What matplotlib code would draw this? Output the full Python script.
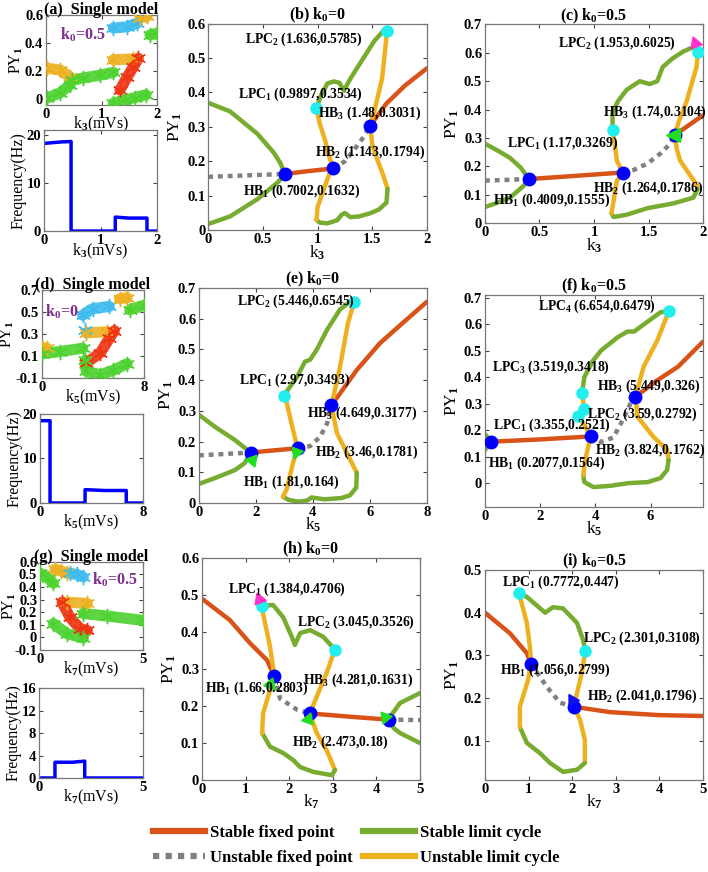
import matplotlib
matplotlib.use("Agg")
import matplotlib.pyplot as plt
from matplotlib.lines import Line2D

plt.rcParams["font.family"] = ["Liberation Serif", "DejaVu Serif"]
plt.rcParams["font.weight"] = "bold"
plt.rcParams["mathtext.fontset"] = "custom"
plt.rcParams["mathtext.rm"] = "Liberation Serif:bold"
plt.rcParams["mathtext.it"] = "Liberation Serif:bold"
plt.rcParams["mathtext.bf"] = "Liberation Serif:bold"
plt.rcParams["axes.unicode_minus"] = False

SFP = "#D95319"   # stable fixed point
SLC = "#77AC30"   # stable limit cycle
ULC = "#EDB120"   # unstable limit cycle
UFP = "#808080"   # unstable fixed point

# ---------------- (a) single model, k3 ----------------
a_yellow_1 = [(0.02, 0.22), (0.25, 0.207), (0.43, 0.157)]
a_green_1 = [(0.02, 0.007), (0.25, 0.043), (0.43, 0.1), (0.47, 0.136), (0.67, 0.15), (0.97, 0.17), (1.21, 0.19)]
a_cyan = [(1.21, 0.507), (1.46, 0.516), (1.64, 0.54)]
a_yellow_2 = [(1.69, 0.58), (1.82, 0.59)]
a_green_2 = [(1.87, 0.457), (2.0, 0.47)]
a_yellow_3 = [(1.21, 0.28), (1.57, 0.286)]
a_red = [(1.33, 0.064), (1.46, 0.157), (1.57, 0.229), (1.66, 0.29)]
a_green_3 = [(1.21, -0.03), (1.4, -0.01), (1.6, 0.01), (1.8, 0.03)]
a_freq_k = [0, 0.1, 0.2, 0.3, 0.48, 0.48, 1.26, 1.26, 1.5, 1.82, 1.82, 2.0]
a_freq_hz = [18.2, 18.3, 18.4, 18.5, 18.6, 0, 0, 2.9, 2.7, 2.7, 0, 0]

# ---------------- (b) k0=0, k3 ----------------
b_slc_left = [(0, 0.37), (0.2, 0.345), (0.45, 0.28), (0.6, 0.225), (0.66, 0.195), (0.7002, 0.1632),
              (0.64, 0.14), (0.45, 0.09), (0.2, 0.04), (0, 0.018)]
b_ufp_1 = [(0, 0.155), (0.7002, 0.1632)]
b_sfp_1 = [(0.7002, 0.1632), (0.9, 0.171), (1.143, 0.1794)]
b_ufp_2 = [(1.143, 0.1794), (1.25, 0.20), (1.35, 0.24), (1.42, 0.27), (1.48, 0.3031)]
b_sfp_2 = [(1.48, 0.3031), (1.63, 0.368), (1.8, 0.42), (2.0, 0.47)]
b_slc_top = [(0.9897, 0.3534), (1.03, 0.39), (1.09, 0.426), (1.15, 0.432), (1.2, 0.428), (1.24, 0.405),
             (1.3, 0.44), (1.42, 0.50), (1.52, 0.55), (1.62, 0.585), (1.636, 0.5785)]
b_ulc_right = [(1.636, 0.5785), (1.61, 0.50), (1.59, 0.44), (1.53, 0.36), (1.48, 0.3031), (1.50, 0.25),
               (1.54, 0.21), (1.60, 0.16), (1.64, 0.12)]
b_slc_bottom = [(1.64, 0.12), (1.63, 0.08), (1.56, 0.06), (1.48, 0.049), (1.38, 0.04), (1.30, 0.038),
                (1.25, 0.05), (1.22, 0.045), (1.18, 0.029), (1.09, 0.02), (1.02, 0.022), (0.99, 0.03)]
b_ulc_left = [(0.99, 0.03), (1.0, 0.067), (1.07, 0.13), (1.11, 0.165), (1.143, 0.1794), (1.10, 0.22),
              (1.07, 0.26), (1.02, 0.31), (0.9897, 0.3534)]
b_hb = [(0.7002, 0.1632), (1.143, 0.1794), (1.48, 0.3031)]
b_lpc = [(0.9897, 0.3534), (1.636, 0.5785)]
b_notes = [("LPC$_2$ (1.636,0.5785)", 0.34, 0.554), ("LPC$_1$ (0.9897,0.3534)", 0.27, 0.394),
           ("HB$_3$ (1.48,0.3031)", 1.0, 0.339), ("HB$_2$ (1.143,0.1794)", 0.98, 0.226),
           ("HB$_1$ (0.7002,0.1632)", 0.32, 0.113)]

# ---------------- (c) k0=0.5, k3 ----------------
c_slc_left = [(0, 0.28), (0.12, 0.255), (0.23, 0.23), (0.33, 0.195), (0.4009, 0.1555), (0.35, 0.13),
              (0.23, 0.09), (0.1, 0.07), (0, 0.057)]
c_ufp_1 = [(0, 0.15), (0.4009, 0.1555)]
c_sfp_1 = [(0.4009, 0.1555), (0.8, 0.166), (1.264, 0.1786)]
c_ufp_2 = [(1.264, 0.1786), (1.36, 0.187), (1.49, 0.21), (1.61, 0.246), (1.7, 0.28), (1.74, 0.3104)]
c_sfp_2 = [(1.74, 0.3104), (1.85, 0.34), (2.0, 0.38)]
c_slc_top = [(1.17, 0.3269), (1.17, 0.39), (1.22, 0.43), (1.30, 0.47), (1.42, 0.50), (1.51, 0.49),
             (1.58, 0.50), (1.63, 0.55), (1.72, 0.58), (1.82, 0.605), (1.91, 0.62), (1.953, 0.6025)]
c_ulc_right = [(1.953, 0.6025), (1.94, 0.55), (1.85, 0.43), (1.78, 0.36), (1.74, 0.3104), (1.76, 0.26),
               (1.79, 0.22), (1.88, 0.17), (1.95, 0.13), (1.95, 0.12)]
c_slc_bottom = [(1.95, 0.12), (1.91, 0.09), (1.73, 0.07), (1.49, 0.053), (1.30, 0.03), (1.18, 0.022),
                (1.16, 0.035)]
c_ulc_left = [(1.16, 0.035), (1.18, 0.08), (1.21, 0.15), (1.264, 0.1786), (1.21, 0.22), (1.19, 0.28),
              (1.17, 0.3269)]
c_hb = [(0.4009, 0.1555), (1.264, 0.1786), (1.74, 0.3104)]
c_lpc = [(1.17, 0.3269), (1.953, 0.6025)]
c_tri = [(1.72, 0.31, "<", "#22DD22"), (1.93, 0.635, (3, 0, -100), "#FF33CC")]
c_notes = [("LPC$_2$ (1.953,0.6025)", 0.67, 0.634), ("HB$_3$ (1.74,0.3104)", 1.08, 0.39),
           ("LPC$_1$ (1.17,0.3269)", 0.2, 0.28), ("HB$_2$ (1.264,0.1786)", 0.99, 0.123),
           ("HB$_1$ (0.4009,0.1555)", 0.07, 0.081)]

# ---------------- (d) single model, k5 ----------------
d_yellow_1 = [(0, 0.18), (0.4, 0.17)]
d_green_1 = [(0, 0.12), (1.4, 0.14), (3.2, 0.17)]
d_cyan_1 = [(3.2, 0.47), (4.0, 0.53), (5.3, 0.55)]
d_cyan_2 = [(3.4, 0.34)]
d_yellow_2 = [(6.1, 0.62), (6.7, 0.63)]
d_green_2 = [(6.9, 0.52), (8, 0.56)]
d_yellow_3 = [(3.5, 0.31), (5.1, 0.32)]
d_red = [(3.5, 0.036), (4.6, 0.13), (5.3, 0.26), (5.7, 0.33)]
d_green_3 = [(3.4, 0.06), (3.5, -0.04), (4.6, -0.07), (5.6, -0.03), (6.7, 0.03)]
d_freq_k = [0, 0.78, 0.78, 3.5, 3.5, 5.0, 6.7, 6.7, 8]
d_freq_hz = [18.5, 18.5, 0, 0, 3.0, 2.8, 2.8, 0, 0]

# ---------------- (e) k0=0, k5 ----------------
e_slc_left = [(0, 0.287), (0.56, 0.248), (1.26, 0.205), (1.6, 0.18), (1.81, 0.164), (1.61, 0.13),
              (1.26, 0.107), (0.56, 0.081), (0, 0.062)]
e_ufp_1 = [(0, 0.155), (1.81, 0.164)]
e_sfp_1 = [(1.81, 0.164), (2.6, 0.171), (3.46, 0.1781)]
e_ufp_2 = [(3.46, 0.1781), (3.9, 0.185), (4.25, 0.215), (4.5, 0.26), (4.649, 0.3177)]
e_sfp_2 = [(4.649, 0.3177), (5.54, 0.433), (6.35, 0.52), (7.2, 0.59), (8, 0.655)]
e_slc_top = [(2.97, 0.3493), (3.44, 0.41), (3.72, 0.46), (3.9, 0.466), (4.14, 0.50), (4.49, 0.563),
             (4.95, 0.63), (5.3, 0.655), (5.446, 0.6545)]
e_ulc_right = [(5.446, 0.6545), (5.23, 0.586), (4.95, 0.443), (4.649, 0.3177), (4.84, 0.228),
               (5.19, 0.163), (5.54, 0.098)]
e_slc_bottom = [(5.54, 0.098), (5.52, 0.05), (5.3, 0.025), (5.0, 0.016), (4.4, 0.012), (3.95, 0.018),
                (3.8, 0.008), (3.5, 0.004), (3.15, 0.01), (2.95, 0.02)]
e_ulc_left = [(2.95, 0.02), (3.08, 0.045), (3.3, 0.13), (3.46, 0.1781), (3.3, 0.238), (3.08, 0.326),
              (2.97, 0.3493)]
e_hb = [(1.81, 0.164), (3.46, 0.1781), (4.649, 0.3177)]
e_lpc = [(2.97, 0.3493), (5.446, 0.6545)]
e_tri = [(1.85, 0.14, (3, 0, 200), "#22DD22"), (3.4, 0.165, (3, 0, -80), "#22DD22")]
e_notes = [("LPC$_2$ (5.446,0.6545)", 1.33, 0.655), ("LPC$_1$ (2.97,0.3493)", 1.4, 0.40),
           ("HB$_3$ (4.649,0.3177)", 3.79, 0.293), ("HB$_2$ (3.46,0.1781)", 4.07, 0.166),
           ("HB$_1$ (1.81,0.164)", 1.54, 0.068)]

# ---------------- (f) k0=0.5, k5 ----------------
f_slc_left = [(0, 0.185), (0.1, 0.172), (0.2077, 0.1564), (0.1, 0.14), (0, 0.125)]
f_sfp_1 = [(0.2077, 0.1564), (2.0, 0.165), (3.824, 0.1762)]
f_ufp = [(3.824, 0.1762), (4.2, 0.155), (4.65, 0.172), (5.0, 0.24), (5.27, 0.30), (5.449, 0.326)]
f_sfp_2 = [(5.449, 0.326), (6.2, 0.385), (7.0, 0.44), (7.9, 0.534)]
f_slc_top = [(3.519, 0.3418), (3.6, 0.40), (3.9, 0.46), (4.2, 0.50), (4.8, 0.55), (5.16, 0.572),
             (5.4, 0.572), (5.9, 0.61), (6.36, 0.645), (6.654, 0.6479)]
f_ulc_right = [(6.654, 0.6479), (6.25, 0.54), (5.75, 0.44), (5.449, 0.326), (5.53, 0.25), (6.1, 0.175),
               (6.6, 0.125), (6.65, 0.087)]
f_slc_bottom = [(6.65, 0.087), (6.6, 0.05), (6.36, 0.019), (5.9, 0.004), (5.2, 0.0), (4.55, -0.01),
                (3.93, -0.015), (3.6, 0.004), (3.56, 0.03)]
f_ulc_left = [(3.56, 0.03), (3.62, 0.08), (3.71, 0.125), (3.824, 0.1762), (3.56, 0.227), (3.355, 0.2521),
              (3.59, 0.2792), (3.519, 0.3418)]
f_hb = [(0.2077, 0.1564), (3.824, 0.1762), (5.449, 0.326)]
f_lpc = [(3.355, 0.2521), (3.59, 0.2792), (3.519, 0.3418), (6.654, 0.6479)]
f_notes = [("LPC$_4$ (6.654,0.6479)", 1.93, 0.667), ("LPC$_3$ (3.519,0.3418)", 0.25, 0.436),
           ("HB$_3$ (5.449,0.326)", 4.07, 0.367), ("LPC$_2$ (3.59,0.2792)", 3.7, 0.26),
           ("LPC$_1$ (3.355,0.2521)", 0.3, 0.22), ("HB$_2$ (3.824,0.1762)", 4.0, 0.125),
           ("HB$_1$ (0.2077,0.1564)", 0.1, 0.075)]

# ---------------- (g) single model, k7 ----------------
g_green_1 = [(0, 0.51), (0.4, 0.47), (0.65, 0.43)]
g_yellow_1 = [(0.73, 0.54), (1.0, 0.53), (1.3, 0.51)]
g_cyan = [(1.45, 0.51), (1.8, 0.50), (2.1, 0.48)]
g_yellow_2 = [(1.3, 0.28), (2.3, 0.27)]
g_red = [(1.07, 0.28), (1.45, 0.16), (1.94, 0.07), (2.3, 0.055)]
g_green_2 = [(2.1, 0.19), (3.25, 0.17), (5, 0.135)]
g_green_3 = [(0.65, 0.11), (1.3, 0.03), (2.1, -0.005)]
g_freq_k = [0, 0.77, 0.77, 1.6, 2.2, 2.2, 5]
g_freq_hz = [0, 0, 2.8, 2.8, 3.0, 0, 0]

# ---------------- (h) k0=0, k7 ----------------
h_sfp_1 = [(0, 0.49), (0.64, 0.432), (1.1, 0.37), (1.49, 0.324), (1.66, 0.2803)]
h_ufp_1 = [(1.66, 0.2803), (1.79, 0.22), (2.18, 0.19), (2.473, 0.18)]
h_sfp_2 = [(2.473, 0.18), (3.4, 0.171), (4.281, 0.1631)]
h_ufp_2 = [(4.281, 0.1631), (5, 0.162)]
h_slc_right = [(5, 0.235), (4.54, 0.208), (4.31, 0.17), (4.281, 0.1631), (4.4, 0.14), (4.54, 0.127), (5, 0.1)]
h_slc_top = [(1.384, 0.4706), (1.63, 0.473), (1.86, 0.44), (2.06, 0.387), (2.13, 0.365), (2.25, 0.397),
             (2.48, 0.405), (2.78, 0.387), (3.045, 0.3526)]
h_ulc_right = [(3.045, 0.3526), (2.86, 0.29), (2.63, 0.225), (2.473, 0.18), (2.63, 0.127), (2.86, 0.08),
               (3.05, 0.027)]
h_slc_bottom = [(3.05, 0.027), (2.98, 0.013), (2.55, 0.022), (2.25, 0.035), (2.09, 0.054), (1.86, 0.073),
                (1.56, 0.09), (1.38, 0.127)]
h_ulc_left = [(1.38, 0.127), (1.40, 0.18), (1.56, 0.243), (1.66, 0.2803), (1.56, 0.36), (1.40, 0.45),
              (1.384, 0.4706)]
h_hb = [(1.66, 0.2803), (2.473, 0.18), (4.281, 0.1631)]
h_lpc = [(1.384, 0.4706), (3.045, 0.3526)]
h_tri = [(1.3, 0.49, (3, 0, 20), "#FF33CC"), (1.55, 0.26, (3, 0, 220), "#22DD22"),
         (2.42, 0.165, (3, 0, 220), "#22DD22"), (4.2, 0.17, (3, 0, 40), "#22DD22")]
h_notes = [("LPC$_1$ (1.384,0.4706)", 0.6, 0.516), ("LPC$_2$ (3.045,0.3526)", 2.18, 0.427),
           ("HB$_3$ (4.281,0.1631)", 2.32, 0.27), ("HB$_1$ (1.66,0.2803)", 0.07, 0.249),
           ("HB$_2$ (2.473,0.18)", 2.06, 0.103)]

# ---------------- (i) k0=0.5, k7 ----------------
i_sfp_1 = [(0, 0.40), (0.57, 0.352), (0.96, 0.305), (1.056, 0.2799)]
i_ufp = [(1.056, 0.2799), (1.42, 0.226), (1.72, 0.189), (2.041, 0.1796)]
i_sfp_2 = [(2.041, 0.1796), (2.87, 0.167), (4.0, 0.16), (5, 0.158)]
i_slc_top = [(0.7772, 0.447), (0.96, 0.437), (1.38, 0.40), (1.56, 0.413), (1.79, 0.41), (2.11, 0.376),
             (2.25, 0.336), (2.301, 0.3108)]
i_ulc_right = [(2.301, 0.3108), (2.22, 0.259), (2.13, 0.22), (2.041, 0.1796), (2.18, 0.149), (2.29, 0.102),
               (2.29, 0.048)]
i_slc_bottom = [(2.29, 0.048), (2.11, 0.032), (1.79, 0.027), (1.49, 0.048), (1.26, 0.071), (0.96, 0.095),
                (0.80, 0.132)]
i_ulc_left = [(0.80, 0.132), (0.80, 0.18), (0.99, 0.243), (1.056, 0.2799), (1.03, 0.32), (0.96, 0.376),
              (0.7772, 0.447)]
i_hb = [(1.056, 0.2799), (2.041, 0.1796)]
i_lpc = [(0.7772, 0.447), (2.301, 0.3108)]
i_tri = [(2.0, 0.195, (3, 0, -90), "#1111EE")]
i_notes = [("LPC$_1$ (0.7772,0.447)", 0.39, 0.472), ("LPC$_2$ (2.301,0.3108)", 2.25, 0.34),
           ("HB$_1$ (1.056,0.2799)", 0.34, 0.266), ("HB$_2$ (2.041,0.1796)", 2.34, 0.203)]

TICK_FS = 10.5
NOTE_FS = 9.8


def style(ax):
    ax.tick_params(direction="in", top=True, right=True, labelsize=TICK_FS, length=3,
                   color="#444444", pad=2)
    for s in ax.spines.values():
        s.set_color("#777777")
        s.set_linewidth(0.9)


def curve(ax, pts, color, lw=3.2):
    xs = [p[0] for p in pts]
    ys = [p[1] for p in pts]
    if color == UFP:
        ax.plot(xs, ys, color=color, lw=lw, ls=(0, (1.1, 1.1)), zorder=2)
    else:
        ax.plot(xs, ys, color=color, lw=lw, solid_capstyle="round", solid_joinstyle="round", zorder=2)


def cluster(ax, pts, color):
    xs = [p[0] for p in pts]
    ys = [p[1] for p in pts]
    ax.plot(xs, ys, color=color, lw=8, alpha=0.9, solid_capstyle="round", zorder=2)
    ax.plot(xs, ys, ls="none", marker=(6, 2, 0), ms=11, mew=1.0, color=color, zorder=3)


def dots(ax, hb, lpc, tri=(), notes=()):
    for x, y in lpc:
        ax.plot(x, y, "o", color="#22EEEE", ms=8, mec="#22EEEE", zorder=5)
    for x, y in hb:
        ax.plot(x, y, "o", color="#0000FF", ms=9, zorder=5)
    for x, y, m, c in tri:
        ax.plot(x, y, marker=m, color=c, ms=10, ls="none", zorder=6)
    for txt, x, y in notes:
        ax.text(x, y, txt, fontsize=NOTE_FS, va="center", ha="left", zorder=7)


def small_axes(rect, xlim, ylim, xticks, yticks, yticklabels, xlabel, ylabel):
    ax = fig.add_axes(rect)
    style(ax)
    ax.set_xlim(*xlim)
    ax.set_ylim(*ylim)
    ax.set_xticks(xticks)
    ax.set_xticklabels([f"{t:g}" for t in xticks])
    ax.set_yticks(yticks)
    ax.set_yticklabels(yticklabels)
    ax.set_xlabel(xlabel, fontsize=11.5, labelpad=-4)
    ax.set_ylabel(ylabel, fontsize=11.5, labelpad=0)
    return ax


fig = plt.figure(figsize=(7.08, 8.72), dpi=100)

# ---- column 1 ----
GRN = "#4CD22E"
CYN = "#3DBBEE"
RED = "#EE3311"

ax = small_axes([0.065, 0.8796, 0.157, 0.1032], (0, 2), (-0.043, 0.6), [0, 1, 2],
                [0, 0.2, 0.4, 0.6], ["0", "0.2", "0.4", "0.6"], "k$_3$(mVs)", "PY$_1$")
for pts, c in [(a_yellow_1, ULC), (a_green_1, GRN), (a_cyan, CYN), (a_yellow_2, ULC),
               (a_green_2, GRN), (a_yellow_3, ULC), (a_red, RED), (a_green_3, GRN)]:
    cluster(ax, pts, c)
ax.text(0.13, 0.78, "k$_0$=0.5", transform=ax.transAxes, color="#7E2F8E", fontsize=11.5, va="center")
ax.set_title("(a)  Single model", fontsize=11.5, pad=1, fontweight="bold")

ax = small_axes([0.062, 0.735, 0.160, 0.116], (0, 2), (0, 21), [0, 1, 2],
                [0, 10, 20], ["0", "10", "20"], "k$_3$(mVs)", "Frequency(Hz)")
ax.plot(a_freq_k, a_freq_hz, color="#0000FF", lw=2.5)

ax = small_axes([0.059, 0.5665, 0.144, 0.101], (0, 8), (-0.1, 0.7), [0, 8],
                [-0.1, 0.1, 0.3, 0.5, 0.7], ["-0.1", "0.1", "0.3", "0.5", "0.7"], "k$_5$(mVs)", "PY$_1$")
for pts, c in [(d_yellow_1, ULC), (d_green_1, GRN), (d_cyan_1, CYN), (d_cyan_2, CYN),
               (d_yellow_2, ULC), (d_green_2, GRN), (d_yellow_3, ULC), (d_red, RED), (d_green_3, GRN)]:
    cluster(ax, pts, c)
ax.text(0.03, 0.75, "k$_0$=0", transform=ax.transAxes, color="#7E2F8E", fontsize=11.5, va="center")
ax.set_title("(d)  Single model", fontsize=11.5, pad=1, fontweight="bold")

ax = small_axes([0.0565, 0.4232, 0.1455, 0.102], (0, 8), (0, 20), [0, 8],
                [0, 10, 20], ["0", "10", "20"], "k$_5$(mVs)", "Frequency(Hz)")
ax.plot(d_freq_k, d_freq_hz, color="#0000FF", lw=2.5)

ax = small_axes([0.0565, 0.2546, 0.1455, 0.101], (0, 5), (-0.1, 0.6), [0, 5],
                [-0.1, 0, 0.1, 0.2, 0.3, 0.4, 0.5, 0.6],
                ["-0.1", "0", "0.1", "0.2", "0.3", "0.4", "0.5", "0.6"], "k$_7$(mVs)", "PY$_1$")
ax.yaxis.labelpad = -3
for pts, c in [(g_green_1, GRN), (g_yellow_1, ULC), (g_cyan, CYN), (g_yellow_2, ULC),
               (g_red, RED), (g_green_2, GRN), (g_green_3, GRN)]:
    cluster(ax, pts, c)
ax.text(0.5, 0.8, "k$_0$=0.5", transform=ax.transAxes, color="#7E2F8E", fontsize=11.5, va="center")
ax.set_title("(g)  Single model", fontsize=11.5, pad=1, fontweight="bold")

ax = small_axes([0.055, 0.1078, 0.147, 0.1032], (0, 5), (0, 16), [0, 5],
                [0, 4, 8, 12, 16], ["0", "4", "8", "12", "16"], "k$_7$(mVs)", "Frequency(Hz)")
ax.plot(g_freq_k, g_freq_hz, color="#0000FF", lw=2.5)


# ---- bifurcation panels ----
def big_axes(rect, xlim, ylim, xticks, yticks, xlabel, title):
    ax = fig.add_axes(rect)
    style(ax)
    ax.set_xlim(*xlim)
    ax.set_ylim(*ylim)
    ax.set_xticks(xticks)
    ax.set_xticklabels([f"{t:g}" for t in xticks])
    ax.set_yticks(yticks)
    ax.set_yticklabels([f"{t:g}" for t in yticks])
    ax.set_xlabel(xlabel, fontsize=12.5, labelpad=-2)
    ax.set_ylabel("PY$_1$", fontsize=12.5, labelpad=2)
    ax.set_title(title, fontsize=11.5, pad=3, fontweight="bold")
    return ax


yt7 = [0, 0.1, 0.2, 0.3, 0.4, 0.5, 0.6, 0.7]
yt6 = [0, 0.1, 0.2, 0.3, 0.4, 0.5, 0.6]

ax = big_axes([0.294, 0.736, 0.309, 0.237], (0, 2), (0, 0.6), [0, 0.5, 1, 1.5, 2], yt6, "k$_3$", "(b) k$_0$=0")
for pts, c in [(b_slc_left, SLC), (b_ufp_1, UFP), (b_sfp_1, SFP), (b_ufp_2, UFP), (b_sfp_2, SFP),
               (b_slc_top, SLC), (b_ulc_right, ULC), (b_slc_bottom, SLC), (b_ulc_left, ULC)]:
    curve(ax, pts, c)
dots(ax, b_hb, b_lpc, notes=b_notes)

ax = big_axes([0.685, 0.744, 0.308, 0.228], (0, 2), (0, 0.7), [0, 0.5, 1, 1.5, 2], yt7, "k$_3$", "(c) k$_0$=0.5")
for pts, c in [(c_slc_left, SLC), (c_ufp_1, UFP), (c_sfp_1, SFP), (c_ufp_2, UFP), (c_sfp_2, SFP),
               (c_slc_top, SLC), (c_ulc_right, ULC), (c_slc_bottom, SLC), (c_ulc_left, ULC)]:
    curve(ax, pts, c)
dots(ax, c_hb, c_lpc, c_tri, c_notes)

ax = big_axes([0.281, 0.4232, 0.322, 0.2466], (0, 8), (0, 0.7), [0, 2, 4, 6, 8], yt7, "k$_5$", "(e) k$_0$=0")
for pts, c in [(e_slc_left, SLC), (e_ufp_1, UFP), (e_sfp_1, SFP), (e_ufp_2, UFP), (e_sfp_2, SFP),
               (e_slc_top, SLC), (e_ulc_right, ULC), (e_slc_bottom, SLC), (e_ulc_left, ULC)]:
    curve(ax, pts, c)
dots(ax, e_hb, e_lpc, e_tri, e_notes)

ax = big_axes([0.685, 0.4186, 0.308, 0.2431], (0, 7.9), (-0.09, 0.71), [0, 2, 4, 6], yt7, "k$_5$",
              "(f) k$_0$=0.5")
for pts, c in [(f_slc_left, SLC), (f_sfp_1, SFP), (f_ufp, UFP), (f_sfp_2, SFP), (f_slc_top, SLC),
               (f_ulc_right, ULC), (f_slc_bottom, SLC), (f_ulc_left, ULC)]:
    curve(ax, pts, c)
dots(ax, f_hb, f_lpc, notes=f_notes)

ax = big_axes([0.2853, 0.1055, 0.308, 0.2546], (0, 5), (0, 0.6), [0, 1, 2, 3, 4, 5], yt6, "k$_7$",
              "(h) k$_0$=0")
for pts, c in [(h_sfp_1, SFP), (h_ufp_1, UFP), (h_sfp_2, SFP), (h_ufp_2, UFP), (h_slc_right, SLC),
               (h_slc_top, SLC), (h_ulc_right, ULC), (h_slc_bottom, SLC), (h_ulc_left, ULC)]:
    curve(ax, pts, c)
dots(ax, h_hb, h_lpc, h_tri, h_notes)

ax = big_axes([0.685, 0.1055, 0.308, 0.2408], (0, 5), (0.008, 0.5), [0, 1, 2, 3, 4, 5],
              [0.1, 0.2, 0.3, 0.4, 0.5], "k$_7$", "(i) k$_0$=0.5")
for pts, c in [(i_sfp_1, SFP), (i_ufp, UFP), (i_sfp_2, SFP), (i_slc_top, SLC), (i_ulc_right, ULC),
               (i_slc_bottom, SLC), (i_ulc_left, ULC)]:
    curve(ax, pts, c)
dots(ax, i_hb, i_lpc, i_tri, i_notes)

# ---- legend ----
handles = [Line2D([], [], color=SFP, lw=4.5), Line2D([], [], color=UFP, lw=4.5, ls=(0, (1, 1))),
           Line2D([], [], color=SLC, lw=4.5), Line2D([], [], color=ULC, lw=4.5)]
labels = ["Stable fixed point", "Unstable fixed point", "Stable limit cycle", "Unstable limit cycle"]
fig.legend(handles, labels, loc="center", bbox_to_anchor=(0.503, 0.0305), ncol=2, frameon=False,
           fontsize=12, handlelength=3.1, handletextpad=0.3, columnspacing=0.65, labelspacing=0.5,
           borderpad=0.1)

fig.savefig("out.png", dpi=100)
